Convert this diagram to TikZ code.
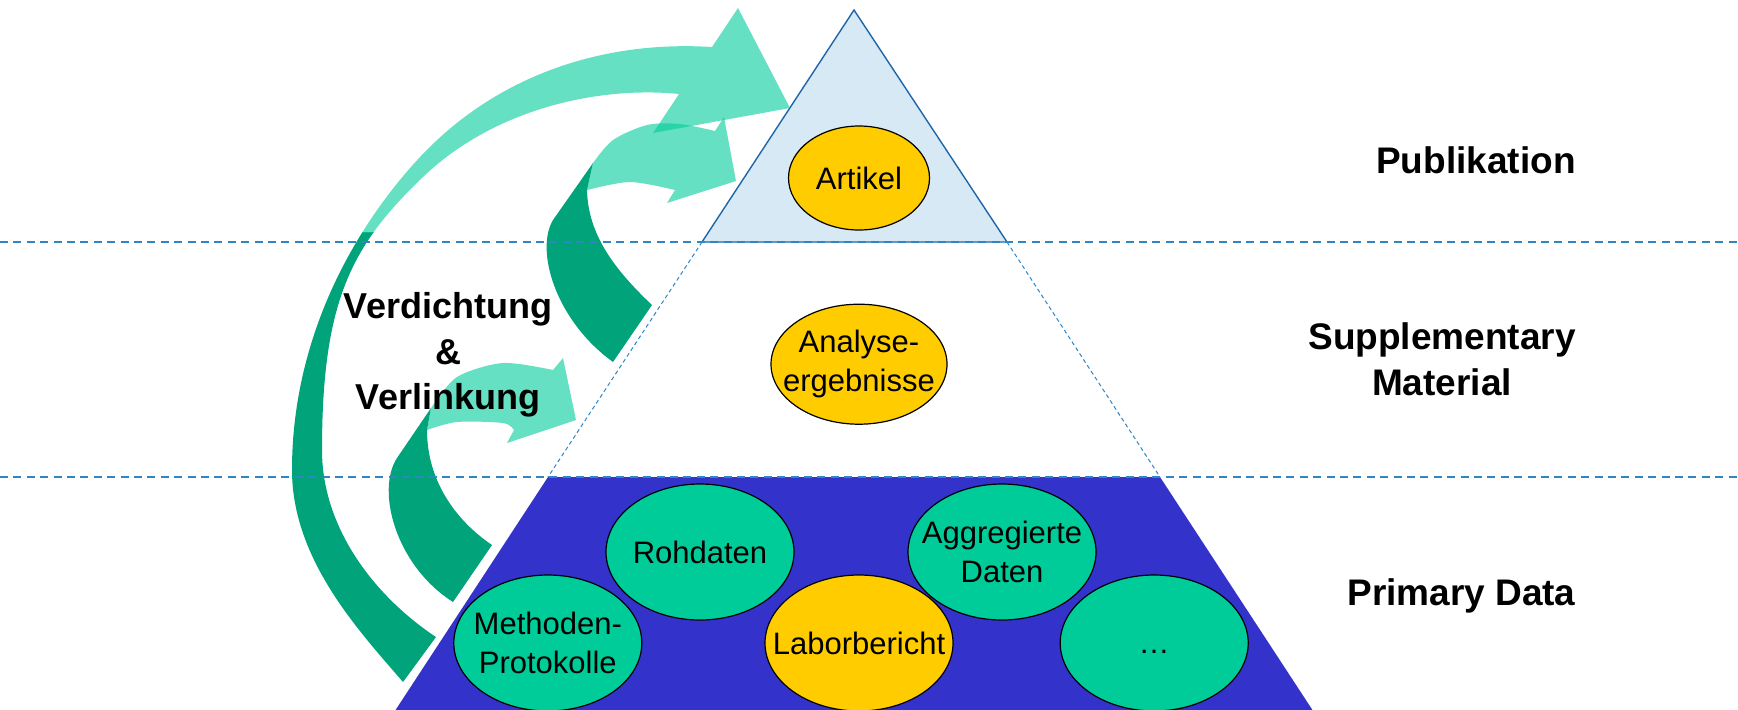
\documentclass[tikz,border=0pt]{standalone}
\usepackage{fontspec}
\setmainfont{Liberation Sans}
\usetikzlibrary{positioning, shapes.geometric}
\definecolor{gruen}{HTML}{00CC99}
\definecolor{dunkelgruen}{HTML}{00A37A}
\definecolor{gelb}{HTML}{FFCC00}
\definecolor{blau}{HTML}{3333CC}
\definecolor{hellblau}{HTML}{D6E9F5}
\definecolor{randblau}{HTML}{1F66A8}
\definecolor{linienblau}{HTML}{2F86C3}
\tikzset{
    datum/.style={draw, ellipse, fill=gruen, line width=0.6pt, inner xsep=-12pt, inner ysep=0pt,
        minimum width=94pt, minimum height=68pt, align=center, font=\fontsize{15.5}{19.5}\selectfont},
    result/.style={datum, fill=gelb},
    level/.style={font=\fontsize{18.5}{23}\selectfont\bfseries, align=center, inner sep=0pt},
    front/.style={fill=gruen, fill opacity=0.6},
    back/.style={fill=dunkelgruen},
    layer/.style={linienblau, line width=0.75pt, dash pattern=on 4pt off 2.7pt},
    slope/.style={linienblau, line width=0.5pt, dash pattern=on 2pt off 1.5pt} }
% outline of the big arrow
\newcommand{\bandA}{(403,682) .. controls (360,632) and (292,560) .. (292,470)
    .. controls (292,340) and (352,230) .. (420,157)
    .. controls (495,77) and (600,40) .. (712,47)
    -- (738,8) -- (790,108) -- (653,133) -- (679,94)
    .. controls (600,86) and (495,108) .. (423,177)
    .. controls (352,245) and (322,300) .. (322,450)
    .. controls (322,530) and (377,598) .. (436,637) -- cycle}

\begin{document}
\begin{tikzpicture}[x=0.5pt, y=-0.5pt]
			\useasboundingbox (0,0) rectangle (1738,709);
			\coordinate (apex) at (854,10);
			\coordinate (pl) at (702,242);
			\coordinate (pr) at (1007,242);
			\coordinate (sl) at (548,477);
			\coordinate (sr) at (1160,477);
			\coordinate (bl) at (389,720);
			\coordinate (br) at (1319,720);
			% ---- pyramid
			\fill[blau] (sl) -- (sr) -- (br) -- (bl) -- cycle;
			\fill[hellblau] (apex) -- (pr) -- (pl) -- cycle;
			\draw[slope] (pl) -- (sl) (pr) -- (sr);
			\draw[randblau, line width=0.7pt] (apex) -- (pr) -- (pl) -- cycle;
			% ---- big arrow
			\begin{scope}
				\clip (0,232) rectangle (800,709);
				\fill[back] \bandA;
			\end{scope}
			\begin{scope}
				\clip (0,0) rectangle (800,232);
				\fill[front] \bandA;
			\end{scope}
			% ---- middle arrow
			\fill[back] (593,163) -- (553,220) .. controls (535,250) and (555,320) .. (613,362)
			-- (652,305) .. controls (615,270) and (588,235) .. (587,190) -- cycle;
			\fill[front] (593,163) -- plot[smooth] coordinates {(593,163) (613,140) (647,125) (680,124) (715,131)}
			-- (724,117) -- (736,181) -- (667,203) -- (675,190)
			-- plot[smooth] coordinates {(675,190) (630,182) (587,190)} -- cycle;
			% ---- lower arrow
			\fill[back] (431,408) -- (397,458) .. controls (376,490) and (395,565) .. (453,602)
			-- (492,545) .. controls (455,520) and (427,480) .. (427,430) -- cycle;
			\fill[front] (431,408) -- plot[smooth] coordinates {(431,408) (457,377) (503,363) (553,370)}
			-- (563,358) -- (576,420) -- (507,443) -- (514,430)
			-- plot[smooth] coordinates {(514,430) (503,423) (457,422) (427,430)} -- cycle;
			% ---- layers
			\draw[layer] (0,242) -- (1738,242);
			\draw[layer] (0,477) -- (1738,477);
			% ---- contents
			\node[result, minimum width=70.5pt, minimum height=52pt] (artikel) at (859,178) {Artikel};
			\node[result, minimum width=88pt, minimum height=60pt, below=36.5pt of artikel] (analyse) {Analyse-\\ergebnisse};
			\node[result] (labor) at (859,643) {Laborbericht};
			\node[datum, left=61pt of labor] (methoden) {Methoden-\\Protokolle};
			\node[datum, right=53pt of labor] (weitere) {\vphantom{L}…};
			\node[datum] (rohdaten) at (700,552) {Rohdaten};
			\node[datum] (aggregiert) at (1002,552) {Aggregierte\\Daten};
			% ---- labels
			\node[level, anchor=base east] (publ) at (1576,173) {Publikation};
			\node[level, anchor=east] (suppl) at (1576,359.5) {Supplementary\\Material};
			\node[level, anchor=base east] (prim) at (1576,605) {Primary Data};
			\node[level, font=\fontsize{18}{22.75}\selectfont\bfseries] (verd) at (448,355) {Verdichtung\\\&\\Verlinkung};
		\end{tikzpicture}
\end{document}
